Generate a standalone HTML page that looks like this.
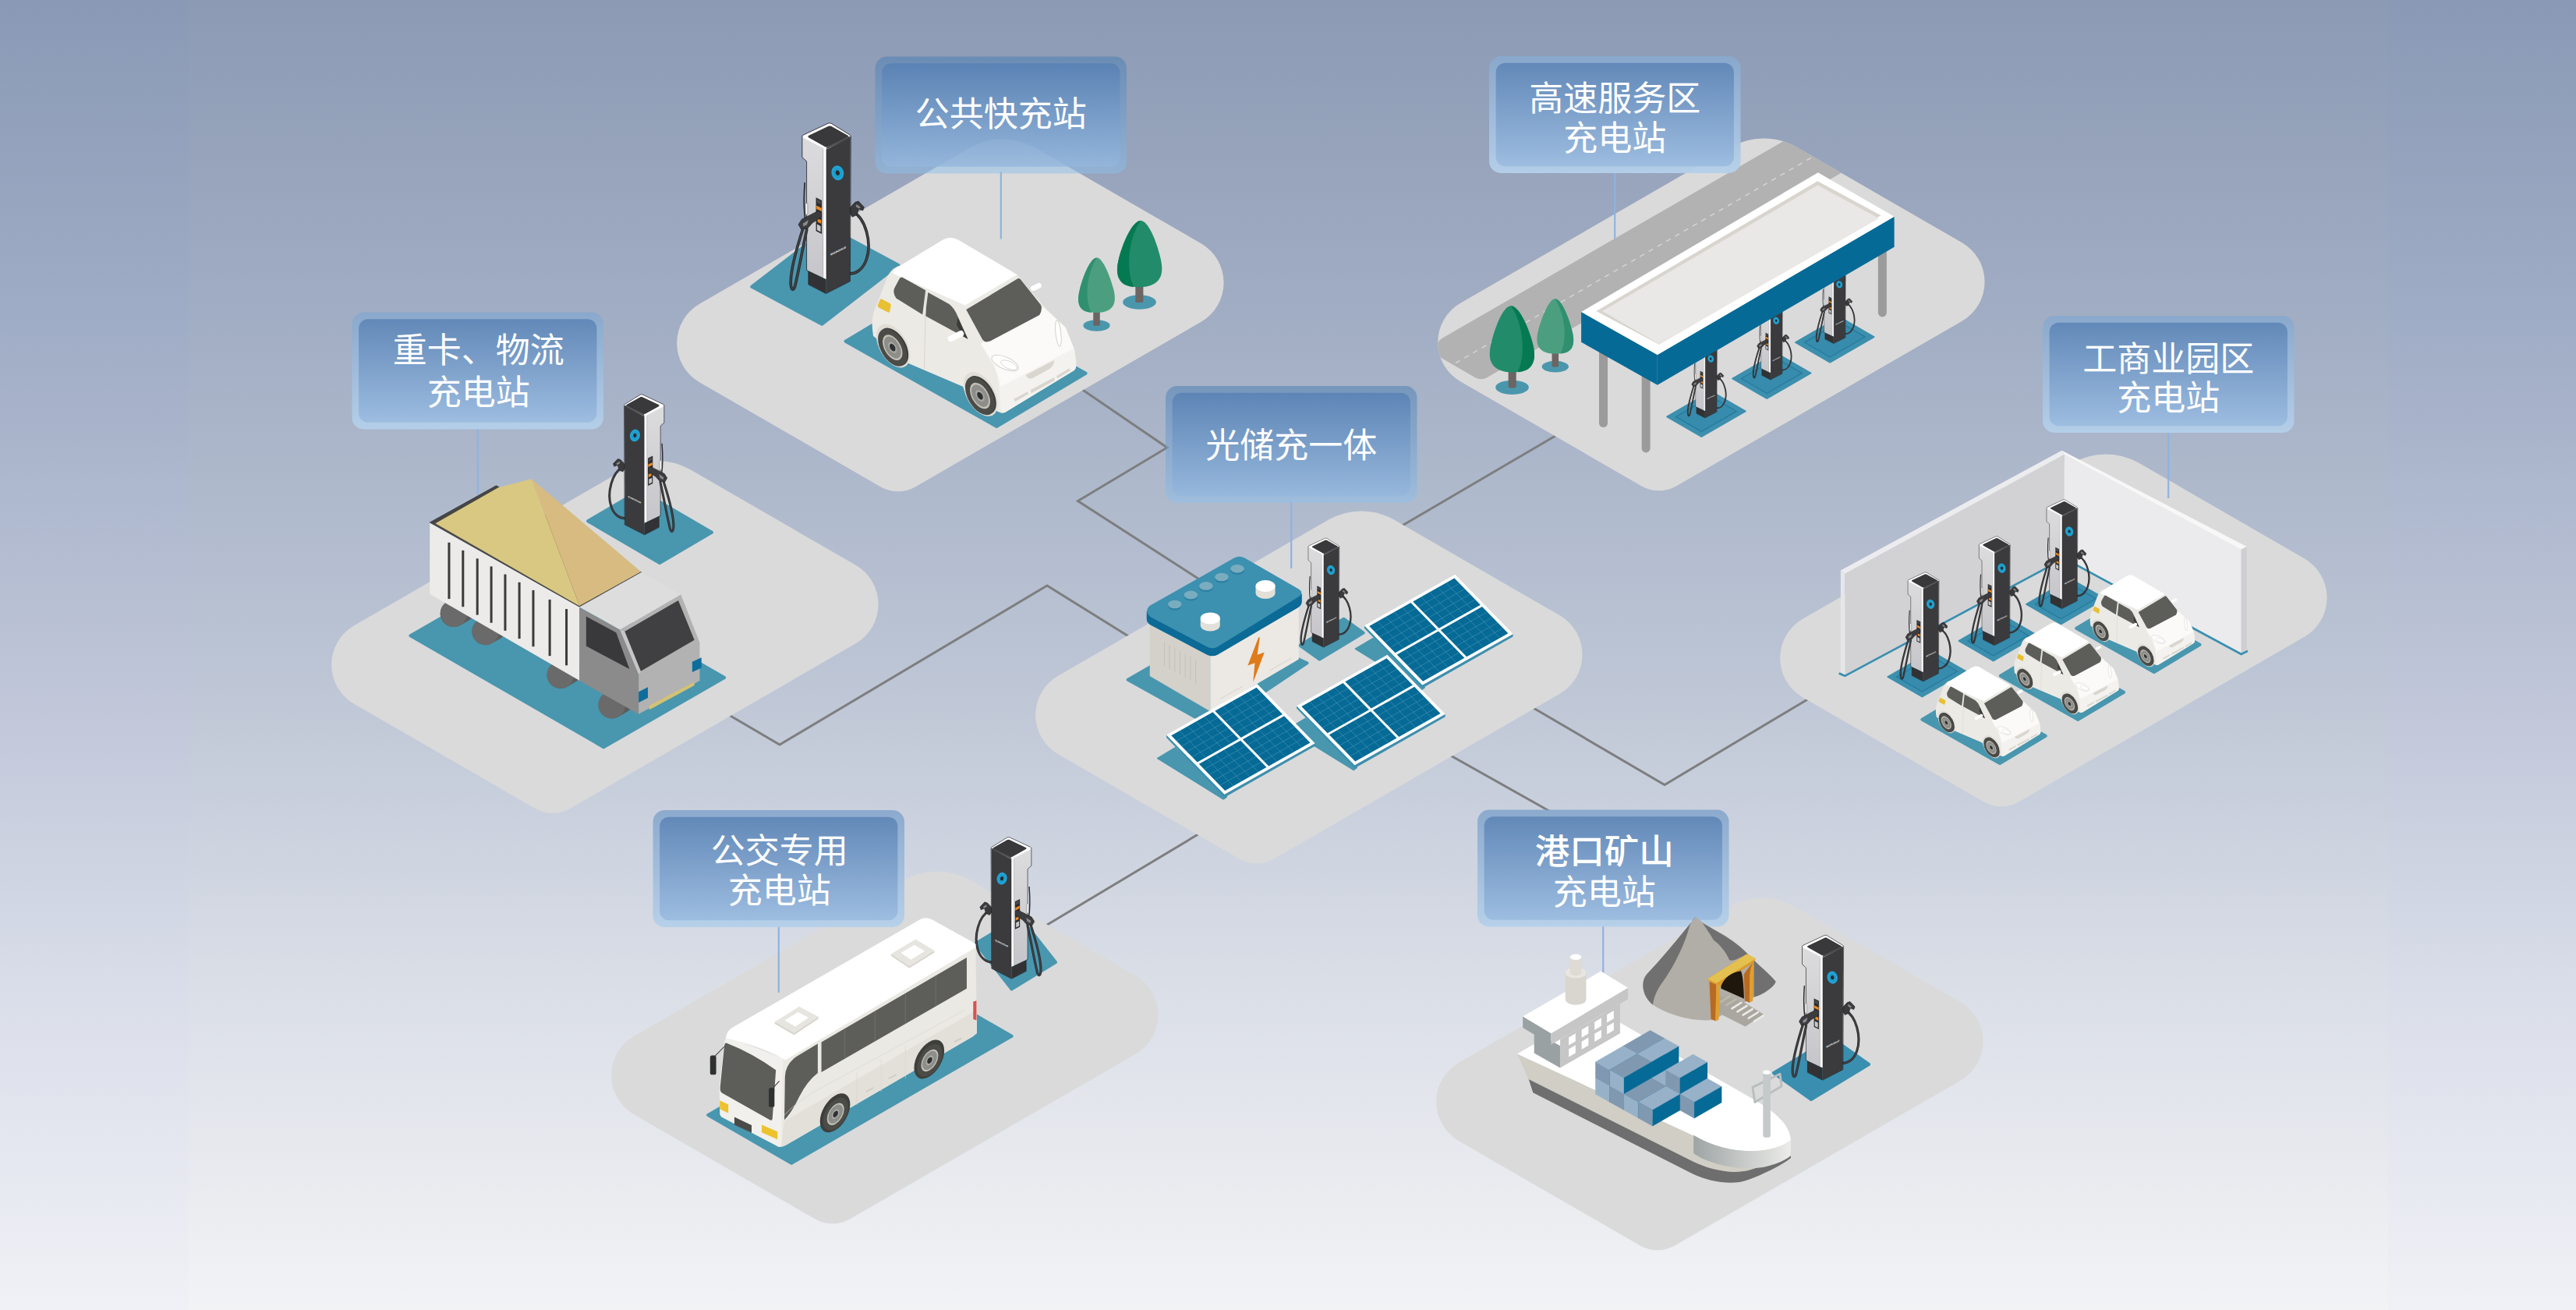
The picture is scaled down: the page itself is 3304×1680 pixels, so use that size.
<!DOCTYPE html>
<html lang="zh"><head><meta charset="utf-8"><title>充电场景</title>
<style>
html,body{margin:0;padding:0;background:#c9cfdb;}
body{width:3304px;height:1680px;overflow:hidden;}
svg{display:block}
svg text{font-family:"Liberation Sans","Noto Sans CJK SC",sans-serif;font-size:44px;fill:#fff;text-anchor:middle;}
</style></head><body>
<svg width="3304" height="1680" viewBox="0 0 3304 1680">
<defs>
<linearGradient id="bg" x1="0" y1="0" x2="0" y2="1">
<stop offset="0" stop-color="#8c9ab4"/><stop offset="0.25" stop-color="#a2aec4"/><stop offset="0.5" stop-color="#bbc4d4"/><stop offset="0.75" stop-color="#dadee7"/><stop offset="1" stop-color="#f2f3f5"/>
</linearGradient>
<linearGradient id="side" x1="0" y1="0" x2="0" y2="1">
<stop offset="0" stop-color="#8a99b5"/><stop offset="0.25" stop-color="#a0adc6"/><stop offset="0.5" stop-color="#bcc3d6"/><stop offset="0.75" stop-color="#d9dde9"/><stop offset="1" stop-color="#f0f1f6"/>
</linearGradient>
<linearGradient id="lgo" x1="0" y1="0" x2="0" y2="1"><stop offset="0" stop-color="#467bb1" stop-opacity="0.5"/><stop offset="1" stop-color="#8ec0ec" stop-opacity="0.5"/></linearGradient>
<linearGradient id="lgo2" x1="0" y1="0" x2="0" y2="1"><stop offset="0" stop-color="#88a8cc" stop-opacity="0.95"/><stop offset="1" stop-color="#b5d0ea" stop-opacity="0.95"/></linearGradient>
<linearGradient id="lgi2" x1="0" y1="0" x2="0" y2="1"><stop offset="0" stop-color="#6087b7" stop-opacity="0.95"/><stop offset="1" stop-color="#9cbce0" stop-opacity="0.95"/></linearGradient>
<linearGradient id="lgi" x1="0" y1="0" x2="0" y2="1"><stop offset="0" stop-color="#557fb3" stop-opacity="0.78"/><stop offset="1" stop-color="#95b7dd" stop-opacity="0.78"/></linearGradient>

<g id="chg" transform="scale(0.21381) translate(-465,-1105)">
<path d="M628,615 C702,655 742,800 708,900 C688,960 644,992 596,985" fill="none" stroke="#2a2a2c" stroke-width="17" stroke-linecap="round"/><path d="M628,615 C702,655 742,800 708,900 C688,960 644,992 596,985" fill="none" stroke="#4a4a4d" stroke-width="6" stroke-linecap="round"/>
<polygon points="608.0,592.0 640.0,558.0 660.0,552.0 694.0,588.0 686.0,608.0 662.0,598.0 650.0,634.0 624.0,646.0 608.0,624.0" fill="#3a3a3c" stroke="#1c1c1e" stroke-width="3" stroke-linejoin="round"/>
<polygon points="648.0,570.0 672.0,588.0 664.0,596.0 644.0,584.0" fill="#8a8a8d" />
<path d="M338,440 C330,540 334,620 342,670" fill="none" stroke="#2a2a2c" stroke-width="8"/>
<polygon points="360.0,968.0 465.0,1020.0 465.0,1105.0 360.0,1050.0" fill="#323234" />
<polygon points="465.0,235.0 611.0,164.0 608.0,1032.0 465.0,1105.0" fill="#3b3b3d" />
<defs><linearGradient id="chgf" x1="0" y1="0" x2="0" y2="1"><stop offset="0" stop-color="#dcdcde"/><stop offset="1" stop-color="#c6c6ca"/></linearGradient></defs>
<polygon points="324.0,166.0 465.0,238.0 465.0,1018.0 350.0,965.0 350.0,312.0 324.0,288.0" fill="url(#chgf)" />
<path d="M448,238 Q448,231 455,235 L468,241 L468,1019 L448,1010 Z" fill="#ffffff"/>
<path d="M330,156 L478,86 Q487,82 496,86 L606,154 Q616,160 606,168 L474,238 Q466,242 458,238 L330,172 Q318,164 330,156 Z" fill="#ffffff"/>
<path d="M362,158 L480,102 Q488,98 496,102 L596,158 Q604,163 596,168 L476,226 Q468,229 460,225 L362,170 Q352,164 362,158 Z" fill="#39393b"/>
<polygon points="470.0,228.0 604.0,163.0 611.0,168.0 466.0,241.0" fill="#454547" />
<path d="M322,164 Q322,158 330,154 L478,85 Q487,81 496,85 L608,154 Q614,158 614,166 L610,1032 L465,1106 L360,1052 L360,972 L349,966 L349,313 L322,289 Z" fill="none" stroke="#1e1e20" stroke-width="3.5" stroke-linejoin="round"/>
<path d="M468,243 L468,1018" stroke="#1e1e20" stroke-width="3"/>
<path d="M448,239 L448,1009" stroke="#77777b" stroke-width="2"/>
<polygon points="405.0,530.0 440.0,547.0 440.0,748.0 405.0,731.0" fill="#2c2c2e" />
<polygon points="408.0,578.0 438.0,593.0 438.0,613.0 408.0,598.0" fill="#f28a1c" />
<polygon points="414.0,654.0 436.0,665.0 436.0,687.0 414.0,676.0" fill="#f28a1c" />
<polygon points="411.0,690.0 433.0,701.0 433.0,736.0 411.0,725.0" fill="#c9c9cc" />
<polygon points="411.0,540.0 434.0,551.0 434.0,572.0 411.0,561.0" fill="#4a4a4d" />
<g transform="translate(535,382) rotate(-14)"><ellipse rx="37" ry="45" fill="#1b9dce"/><ellipse rx="30" ry="37" fill="none" stroke="#45b6de" stroke-width="4" stroke-dasharray="5 4"/><ellipse rx="12" ry="15" fill="#2a2a2c"/></g>
<text transform="translate(538,856) skewY(-26) scale(-1,1)" style="font-size:17px;font-weight:700;letter-spacing:0.5px" fill="#fff">SUNGROW</text>
<rect x="342" y="563" width="13" height="70" rx="6" fill="#fff" stroke="#333" stroke-width="2"/>
<path d="M330,706 C290,830 250,980 254,1050 C257,1088 270,1090 279,1062 C298,985 322,850 350,722" fill="none" stroke="#2a2a2c" stroke-width="17" stroke-linecap="round"/><path d="M330,706 C290,830 250,980 254,1050 C257,1088 270,1090 279,1062 C298,985 322,850 350,722" fill="none" stroke="#4a4a4d" stroke-width="6" stroke-linecap="round"/>
<polygon points="300.0,692.0 320.0,660.0 420.0,609.0 438.0,620.0 438.0,647.0 384.0,682.0 354.0,716.0 316.0,720.0" fill="#3c3c3e" stroke="#1c1c1e" stroke-width="3" stroke-linejoin="round"/>
<polygon points="326.0,686.0 360.0,664.0 352.0,692.0 330.0,704.0" fill="#8a8a8d" />
</g><g id="car" transform="scale(0.21368)">
<path d="M400,282 Q350,292 322,345 L236,565 Q220,620 234,705 L300,760 L440,868 L772,1010 L800,1080 L1000,1168 Q1015,1172 1030,1162 L1440,912 Q1456,900 1452,860 L1442,790 L1385,652 L1250,520 L1098,338 L745,130 Q700,105 655,128 Z" fill="#eceae5" />
<path d="M880,752 L1255,535 L1388,655 L1443,792 L1452,880 Q1452,902 1440,912 L1030,1162 Q1012,1172 1000,1150 L990,1010 Q975,900 940,850 Z" fill="#f3f2ee" />
<path d="M880,752 L1255,535 L1388,655 L1438,780 L1000,1010 Q975,900 940,850 Z" fill="#fbfaf8" />
<path d="M350,330 Q365,295 400,282 L655,128 Q700,105 745,130 L1098,338 L785,522 Z" fill="#ffffff" />
<path d="M792,548 L1098,364 Q1110,356 1120,368 L1240,520 Q1252,545 1232,580 L938,736 Q905,750 890,728 Z" fill="#5d5e59" />
<path d="M372,480 Q348,445 362,418 L392,362 Q400,348 416,358 L548,432 L530,578 Z" fill="#5d5e59" />
<path d="M563,445 L690,515 Q722,540 742,590 L802,724 L546,585 Z" fill="#5d5e59" />
<path d="M742,596 L802,724 L775,708 L735,640 Z" fill="#3a3b38" />
<path d="M552,438 L540,902" stroke="#d3d0c8" stroke-width="4" fill="none"/>
<path d="M284,484 L334,510 Q342,515 340,525 L333,560 Q330,568 320,563 L268,536 Q258,530 262,520 L274,490 Q278,480 284,484 Z" fill="#e9c034" />
<line x1="700" y1="722" x2="760" y2="692" stroke="#fff" stroke-width="36" stroke-linecap="round"/>
<line x1="1195" y1="420" x2="1228" y2="404" stroke="#fff" stroke-width="32" stroke-linecap="round"/>
<ellipse cx="1025" cy="868" rx="86" ry="36" transform="rotate(24 1025 868)" fill="#fff" stroke="#d6d3cb" stroke-width="5"/>
<ellipse cx="1048" cy="880" rx="52" ry="22" transform="rotate(24 1048 880)" fill="#fff" stroke="#d6d3cb" stroke-width="4"/>
<ellipse cx="1345" cy="690" rx="16" ry="78" transform="rotate(-6 1345 690)" fill="#fff" stroke="#d6d3cb" stroke-width="5"/>
<path d="M1150,940 L1322,850 Q1320,884 1290,905 L1188,960 Q1160,968 1150,940 Z" fill="#d8d6ce" />
<polygon points="1078.0,1085.0 1160.0,1040.0 1166.0,1054.0 1086.0,1100.0" fill="#d8d6ce" />
<polygon points="1178.0,1030.0 1320.0,955.0 1323.0,973.0 1183.0,1049.0" fill="#d8d6ce" />
<polygon points="1335.0,945.0 1412.0,900.0 1416.0,915.0 1339.0,962.0" fill="#d8d6ce" />
<g transform="matrix(.866,.5,0,1,354,765)"><circle r="117" fill="#e0ddd6"/></g>
<g transform="matrix(.866,.5,0,1,358,771)"><circle r="101" fill="#3a3a38"/></g>
<g transform="matrix(.866,.5,0,1,350,775)"><circle r="101" fill="#4b4b48"/><circle r="68.68" fill="#c2bfb4"/><circle r="58.58" fill="#8d8e8a"/><circle r="30.3" fill="#a9a9a4"/><circle r="20.2" fill="#2f3133"/></g>
<g transform="matrix(.866,.5,0,1,879,1055)"><circle r="119" fill="#e0ddd6"/></g>
<g transform="matrix(.866,.5,0,1,883,1061)"><circle r="103" fill="#3a3a38"/></g>
<g transform="matrix(.866,.5,0,1,875,1065)"><circle r="103" fill="#4b4b48"/><circle r="70.04" fill="#c2bfb4"/><circle r="59.74" fill="#8d8e8a"/><circle r="30.9" fill="#a9a9a4"/><circle r="20.6" fill="#2f3133"/></g>
</g><g id="treeD" transform="scale(0.30534) translate(-195,-972)">
<ellipse cx="195" cy="972" rx="70" ry="30" fill="#4a97ad"/>
<rect x="179" y="880" width="33" height="94" rx="6" fill="#6b6563"/>
<path d="M190,630 C224,630 264,720 282,790 C300,860 282,906 195,909 C108,906 90,860 106,790 C124,715 158,630 190,630 Z" fill="#228b6a"/>
<path d="M190,630 C224,630 264,720 282,790 C300,860 282,904 218,908 C250,850 248,715 190,630 Z" fill="#057a52"/>
</g>
<g id="treeL" transform="scale(0.30534) translate(-376,-885)">
<ellipse cx="376" cy="885" rx="56" ry="24" fill="#4a97ad"/>
<rect x="362" y="810" width="28" height="76" rx="5" fill="#6b6563"/>
<path d="M375,600 C402,600 434,680 447,735 C462,795 448,829 376,831 C306,829 290,795 304,735 C318,680 350,600 375,600 Z" fill="#4b9f80"/>
<path d="M375,600 C402,600 434,680 447,735 C462,795 448,827 398,830 C425,780 422,675 375,600 Z" fill="#2f9070"/>
</g>
</defs>
<rect width="3304" height="1680" fill="url(#bg)"/>
<rect width="242" height="1680" fill="url(#side)"/><rect x="3062" width="242" height="1680" fill="url(#side)"/>
<g id="lines"><polyline points="1385.0,497.5 1497.0,574.0 1382.5,642.5 1560.0,757.0" fill="none" stroke="#7e7e7f" stroke-width="3"/>
<polyline points="930.0,914.0 1000.0,955.0 1343.0,751.0 1470.0,830.0" fill="none" stroke="#7e7e7f" stroke-width="3"/>
<polyline points="1338.0,1189.0 1540.0,1068.0" fill="none" stroke="#7e7e7f" stroke-width="3"/>
<polyline points="1790.0,679.0 2000.0,556.0" fill="none" stroke="#7e7e7f" stroke-width="3"/>
<polyline points="1960.0,904.0 2135.0,1006.5 2325.0,893.0" fill="none" stroke="#7e7e7f" stroke-width="3"/>
<polyline points="1850.0,963.0 1987.0,1040.0" fill="none" stroke="#7e7e7f" stroke-width="3"/></g>
<g id="pads">
<path d="M1243.5,189.8 A85,85 0 0 1 1328.5,189.8 L1540.6,312.3 A58,58 0 0 1 1540.6,412.7 L1174.3,624.3 A45,45 0 0 1 1129.3,624.3 L897.1,490.2 A58,58 0 0 1 897.1,389.8 Z" fill="#dadada"/>
<path d="M800.5,602.3 A85,85 0 0 1 885.5,602.3 L1097.6,724.8 A58,58 0 0 1 1097.6,825.2 L731.3,1036.8 A45,45 0 0 1 686.3,1036.8 L454.1,902.7 A58,58 0 0 1 454.1,802.3 Z" fill="#dadada"/>
<path d="M1703.5,666.8 A85,85 0 0 1 1788.5,666.8 L2000.6,789.3 A58,58 0 0 1 2000.6,889.7 L1634.3,1101.3 A45,45 0 0 1 1589.3,1101.3 L1357.1,967.2 A58,58 0 0 1 1357.1,866.8 Z" fill="#dadada"/>
<path d="M2219.5,188.8 A85,85 0 0 1 2304.5,188.8 L2516.6,311.3 A58,58 0 0 1 2516.6,411.7 L2150.3,623.3 A45,45 0 0 1 2105.3,623.3 L1873.1,489.2 A58,58 0 0 1 1873.1,388.8 Z" fill="#dadada"/>
<path d="M2658.5,593.8 A85,85 0 0 1 2743.5,593.8 L2955.6,716.3 A58,58 0 0 1 2955.6,816.7 L2589.3,1028.3 A45,45 0 0 1 2544.3,1028.3 L2312.1,894.2 A58,58 0 0 1 2312.1,793.8 Z" fill="#dadada"/>
<path d="M1159.5,1128.8 A85,85 0 0 1 1244.5,1128.8 L1456.6,1251.3 A58,58 0 0 1 1456.6,1351.7 L1090.3,1563.3 A45,45 0 0 1 1045.3,1563.3 L813.1,1429.2 A58,58 0 0 1 813.1,1328.8 Z" fill="#dadada"/>
<path d="M2217.5,1162.8 A85,85 0 0 1 2302.5,1162.8 L2514.6,1285.3 A58,58 0 0 1 2514.6,1385.7 L2148.3,1597.3 A45,45 0 0 1 2103.3,1597.3 L1871.1,1463.2 A58,58 0 0 1 1871.1,1362.8 Z" fill="#dadada"/>
<polygon points="964.3,367.7 1062.6,291.8 1152.4,339.9 1054.1,415.8" fill="#4996af" stroke="#4996af" stroke-width="4" stroke-linejoin="round"/>
<polygon points="1084.5,437.7 1198.8,369.3 1392.6,478.7 1278.3,547.1" fill="#4996af" stroke="#4996af" stroke-width="4" stroke-linejoin="round"/>
<polygon points="754.0,668.2 820.8,628.9 912.9,682.8 846.1,722.1" fill="#4996af" stroke="#4996af" stroke-width="4" stroke-linejoin="round"/>
<polygon points="526.5,815.3 681.3,726.0 929.1,868.9 774.2,958.2" fill="#4996af" stroke="#4996af" stroke-width="4" stroke-linejoin="round"/>
<polygon points="1446.7,871.7 1568.3,801.7 1676.5,850.3 1554.9,931.8" fill="#4996af" stroke="#4996af" stroke-width="4" stroke-linejoin="round"/>
<polygon points="1667.2,827.6 1723.4,793.7 1748.7,811.6 1692.5,845.5" fill="#4996af" stroke="#4996af" stroke-width="4" stroke-linejoin="round"/>
<polygon points="1738.8,832.2 1761.2,818.8 1827.0,881.6 1823.0,884.3" fill="#4996af" stroke="#4996af" stroke-width="2" stroke-linejoin="round"/>
<polygon points="1651.9,935.1 1674.4,921.7 1740.1,984.5 1736.1,987.2" fill="#4996af" stroke="#4996af" stroke-width="2" stroke-linejoin="round"/>
<polygon points="1484.9,972.5 1507.3,959.1 1573.1,1021.9 1569.1,1024.6" fill="#4996af" stroke="#4996af" stroke-width="2" stroke-linejoin="round"/>
<defs><clipPath id="padDc"><path d="M2219.5,188.8 A85,85 0 0 1 2304.5,188.8 L2516.6,311.3 A58,58 0 0 1 2516.6,411.7 L2150.3,623.3 A45,45 0 0 1 2105.3,623.3 L1873.1,489.2 A58,58 0 0 1 1873.1,388.8 Z"/></clipPath></defs><g clip-path="url(#padDc)"><polygon points="2356.2,158.7 2398.6,183.1 1899.6,471.2 1857.3,446.8" fill="#b2b2b2" stroke="#b2b2b2" stroke-width="30" stroke-linejoin="round"/><line x1="2334.1" y1="195.9" x2="1849.6" y2="475.6" stroke="#d6d6d6" stroke-width="1.4" stroke-dasharray="6.5 6.5"/></g>
<polygon points="2194.5,501.9 2238.6,527.4 2182.3,559.9 2138.2,534.4" fill="#3d8fae" stroke="#3d8fae" stroke-width="2" stroke-linejoin="round"/><polygon points="2194.5,508.4 2227.4,527.4 2182.3,553.4 2149.4,534.4" fill="#378bac" stroke="#237c9f" stroke-width="1.3"/>
<polygon points="2278.4,453.0 2322.5,478.5 2266.2,511.0 2222.1,485.5" fill="#3d8fae" stroke="#3d8fae" stroke-width="2" stroke-linejoin="round"/><polygon points="2278.4,459.5 2311.3,478.5 2266.2,504.5 2233.3,485.5" fill="#378bac" stroke="#237c9f" stroke-width="1.3"/>
<polygon points="2359.4,406.6 2403.5,432.1 2347.2,464.6 2303.1,439.1" fill="#3d8fae" stroke="#3d8fae" stroke-width="2" stroke-linejoin="round"/><polygon points="2359.4,413.1 2392.3,432.1 2347.2,458.1 2314.3,439.1" fill="#378bac" stroke="#237c9f" stroke-width="1.3"/>
<polygon points="2477.6,835.5 2521.7,861.0 2465.4,893.5 2421.3,868.0" fill="#3d8fae" stroke="#3d8fae" stroke-width="2" stroke-linejoin="round"/><polygon points="2477.6,842.0 2510.5,861.0 2465.4,887.0 2432.5,868.0" fill="#378bac" stroke="#237c9f" stroke-width="1.3"/>
<polygon points="2568.9,789.4 2613.0,814.9 2556.7,847.4 2512.6,821.9" fill="#3d8fae" stroke="#3d8fae" stroke-width="2" stroke-linejoin="round"/><polygon points="2568.9,795.9 2601.8,814.9 2556.7,840.9 2523.8,821.9" fill="#378bac" stroke="#237c9f" stroke-width="1.3"/>
<polygon points="2655.5,742.3 2699.6,767.8 2643.3,800.3 2599.2,774.8" fill="#3d8fae" stroke="#3d8fae" stroke-width="2" stroke-linejoin="round"/><polygon points="2655.5,748.8 2688.4,767.8 2643.3,793.8 2610.4,774.8" fill="#378bac" stroke="#237c9f" stroke-width="1.3"/>
<polygon points="2465.4,922.8 2524.1,887.6 2623.7,943.8 2565.0,979.0" fill="#4996af" stroke="#4996af" stroke-width="4" stroke-linejoin="round"/>
<polygon points="2565.8,866.7 2624.5,831.5 2724.1,887.7 2665.4,922.9" fill="#4996af" stroke="#4996af" stroke-width="4" stroke-linejoin="round"/>
<polygon points="2663.2,805.8 2721.9,770.6 2821.5,826.8 2762.8,862.0" fill="#4996af" stroke="#4996af" stroke-width="4" stroke-linejoin="round"/>
<polygon points="1251.5,1210.0 1308.0,1175.5 1354.0,1234.0 1297.5,1268.5" fill="#4996af" stroke="#4996af" stroke-width="4" stroke-linejoin="round"/>
<polygon points="908.2,1430.0 1190.6,1267.0 1297.6,1328.7 1015.1,1491.8" fill="#4996af" stroke="#4996af" stroke-width="4" stroke-linejoin="round"/>
<polygon points="2275.0,1376.0 2349.0,1331.0 2397.0,1365.0 2323.0,1410.0" fill="#3a8fb0" stroke="#3a8fb0" stroke-width="4" stroke-linejoin="round"/>
</g>
<g id="labels">
<line x1="1283.8" y1="220.5" x2="1283.8" y2="306.5" stroke="#8fb3df" stroke-width="2.2"/>
<rect x="1122.5" y="72.5" width="322.5" height="150.0" rx="15" fill="url(#lgo)"/>
<rect x="1131.1" y="81.3" width="305.3" height="132.4" rx="12" fill="url(#lgi)"/>
<text x="1283.8" y="162.0">公共快充站</text>
<line x1="2071.2" y1="220.0" x2="2071.2" y2="306.0" stroke="#8fb3df" stroke-width="2.2"/>
<rect x="1910.0" y="72.0" width="322.5" height="150.0" rx="15" fill="url(#lgo2)"/>
<rect x="1918.6" y="80.8" width="305.3" height="132.4" rx="12" fill="url(#lgi2)"/>
<text x="2071.2" y="142.0">高速服务区</text>
<text x="2071.2" y="192.5">充电站</text>
<line x1="612.8" y1="548.5" x2="612.8" y2="634.5" stroke="#8fb3df" stroke-width="2.2"/>
<rect x="451.5" y="400.5" width="322.5" height="150.0" rx="15" fill="url(#lgo2)"/>
<rect x="460.1" y="409.3" width="305.3" height="132.4" rx="12" fill="url(#lgi2)"/>
<text x="613.8" y="465.3">重卡、物流</text>
<text x="613.8" y="519.3">充电站</text>
<line x1="1656.2" y1="643.0" x2="1656.2" y2="729.0" stroke="#8fb3df" stroke-width="2.2"/>
<rect x="1495.0" y="495.0" width="322.5" height="150.0" rx="15" fill="url(#lgo)"/>
<rect x="1503.6" y="503.8" width="305.3" height="132.4" rx="12" fill="url(#lgi)"/>
<text x="1656.2" y="587.0">光储充一体</text>
<line x1="2781.2" y1="553.0" x2="2781.2" y2="639.0" stroke="#8fb3df" stroke-width="2.2"/>
<rect x="2620.0" y="405.0" width="322.5" height="150.0" rx="15" fill="url(#lgo2)"/>
<rect x="2628.6" y="413.8" width="305.3" height="132.4" rx="12" fill="url(#lgi2)"/>
<text x="2781.2" y="476.0">工商业园区</text>
<text x="2781.2" y="526.0">充电站</text>
<line x1="998.8" y1="1187.0" x2="998.8" y2="1273.0" stroke="#8fb3df" stroke-width="2.2"/>
<rect x="837.5" y="1039.0" width="322.5" height="150.0" rx="15" fill="url(#lgo2)"/>
<rect x="846.1" y="1047.8" width="305.3" height="132.4" rx="12" fill="url(#lgi2)"/>
<text x="999.8" y="1107.0">公交专用</text>
<text x="999.8" y="1157.5">充电站</text>
<line x1="2056.2" y1="1186.5" x2="2056.2" y2="1272.5" stroke="#8fb3df" stroke-width="2.2"/>
<rect x="1895.0" y="1038.5" width="322.5" height="150.0" rx="15" fill="url(#lgo2)"/>
<rect x="1903.6" y="1047.3" width="305.3" height="132.4" rx="12" fill="url(#lgi2)"/>
<text x="2057.8" y="1107.8" font-weight="500" style="font-size:44.5px">港口矿山</text>
<text x="2057.8" y="1159.9">充电站</text>
</g>
<g id="objects"><use href="#chg" transform="translate(1059.4,376.3) scale(1.0000,1.0000)"/>
<use href="#treeD" transform="translate(1461.5,387.5) scale(-1,1)"/>
<use href="#treeL" transform="translate(1406.5,417.5) scale(-1,1)"/>
<use href="#car" transform="translate(1070.0,280.0) scale(1.0000)"/>
<use href="#chg" transform="translate(826.7,685.7) scale(-0.8230,0.8230)"/>
<g transform="translate(510,590) scale(0.27480)"><line x1="262" y1="716" x2="302" y2="693" stroke="#5c5c5c" stroke-width="126" stroke-linecap="round"/>
<circle cx="262" cy="716" r="63" fill="#6a6a6a"/>
<line x1="410" y1="800" x2="450" y2="777" stroke="#5c5c5c" stroke-width="126" stroke-linecap="round"/>
<circle cx="410" cy="800" r="63" fill="#6a6a6a"/>
<line x1="760" y1="1003" x2="800" y2="980" stroke="#5c5c5c" stroke-width="126" stroke-linecap="round"/>
<circle cx="760" cy="1003" r="63" fill="#6a6a6a"/>
<line x1="1000" y1="1143" x2="1040" y2="1120" stroke="#5c5c5c" stroke-width="126" stroke-linecap="round"/>
<circle cx="1000" cy="1143" r="63" fill="#6a6a6a"/>
<polygon points="150.0,290.0 850.0,685.0 850.0,1030.0 150.0,625.0" fill="#ecebe9" />
<line x1="240" y1="385.0" x2="240" y2="648.0" stroke="#3b3b3d" stroke-width="11"/>
<line x1="305" y1="421.8" x2="305" y2="684.8" stroke="#3b3b3d" stroke-width="11"/>
<line x1="372" y1="459.7" x2="372" y2="722.7" stroke="#3b3b3d" stroke-width="11"/>
<line x1="437" y1="496.5" x2="437" y2="759.5" stroke="#3b3b3d" stroke-width="11"/>
<line x1="502" y1="533.3" x2="502" y2="796.3" stroke="#3b3b3d" stroke-width="11"/>
<line x1="568" y1="570.6" x2="568" y2="833.6" stroke="#3b3b3d" stroke-width="11"/>
<line x1="633" y1="607.4" x2="633" y2="870.4" stroke="#3b3b3d" stroke-width="11"/>
<line x1="710" y1="651.0" x2="710" y2="914.0" stroke="#3b3b3d" stroke-width="11"/>
<line x1="788" y1="695.2" x2="788" y2="958.2" stroke="#3b3b3d" stroke-width="11"/>
<polygon points="150.0,290.0 460.0,118.0 1137.0,522.0 850.0,686.0" fill="#4a4a4c" />
<polygon points="150.0,290.0 460.0,118.0 475.0,126.0 165.0,300.0" fill="#454547" />
<polygon points="176.0,296.0 470.0,128.0 625.0,88.0 850.0,682.0" fill="#d9c881" />
<polygon points="625.0,88.0 1137.0,522.0 850.0,682.0" fill="#d7bb80" />
<polygon points="850.0,680.0 1137.0,520.0 1137.0,528.0 850.0,688.0" fill="#4a4a4c" />
<path d="M150,290 L850,685 L1137,524" fill="none" stroke="#4a4a4c" stroke-width="4"/>
<polygon points="848.0,686.0 1137.0,524.0 1322.0,628.0 1038.0,792.0" fill="#dddddd" />
<polygon points="848.0,688.0 1038.0,792.0 1125.0,1000.0 1125.0,1185.0 848.0,1030.0" fill="#8b8b8b" />
<polygon points="880.0,730.0 1020.0,805.0 1082.0,975.0 880.0,868.0" fill="#39393b" />
<polygon points="1038.0,792.0 1322.0,628.0 1410.0,852.0 1410.0,1030.0 1125.0,1185.0 1125.0,1000.0" fill="#b2b2b2" />
<polygon points="1038.0,792.0 1062.0,800.0 1138.0,985.0 1125.0,1000.0" fill="#c6c6c6" />
<polygon points="1060.0,800.0 1310.0,655.0 1385.0,840.0 1135.0,985.0" fill="#404042" />
<polygon points="1125.0,1082.0 1168.0,1060.0 1168.0,1110.0 1125.0,1132.0" fill="#0d6d9c" />
<polygon points="1375.0,942.0 1418.0,922.0 1418.0,970.0 1375.0,990.0" fill="#0d6d9c" />
<polygon points="1175.0,1145.0 1385.0,1035.0 1385.0,1052.0 1175.0,1165.0" fill="#d3c272" /></g>
<g transform="translate(1440,690) scale(0.26724)"><polygon points="130.0,400.0 420.0,560.0 420.0,832.0 130.0,662.0" fill="#d3d1ca" />
<polygon points="420.0,560.0 845.0,315.0 845.0,582.0 420.0,832.0" fill="#ece9e4" />
<line x1="200" y1="500.0" x2="200" y2="615.0" stroke="#bfbcb4" stroke-width="3"/>
<line x1="225" y1="513.8" x2="225" y2="628.8" stroke="#bfbcb4" stroke-width="3"/>
<line x1="250" y1="527.5" x2="250" y2="642.5" stroke="#bfbcb4" stroke-width="3"/>
<line x1="275" y1="541.2" x2="275" y2="656.2" stroke="#bfbcb4" stroke-width="3"/>
<line x1="300" y1="555.0" x2="300" y2="670.0" stroke="#bfbcb4" stroke-width="3"/>
<line x1="325" y1="568.8" x2="325" y2="683.8" stroke="#bfbcb4" stroke-width="3"/>
<line x1="350" y1="582.5" x2="350" y2="697.5" stroke="#bfbcb4" stroke-width="3"/>
<line x1="705" y1="636" x2="810" y2="576" stroke="#cfccc5" stroke-width="3"/>
<line x1="468" y1="772" x2="575" y2="712" stroke="#cfccc5" stroke-width="3"/>
<path d="M115,352 L115,392 Q117,408 135,418 L405,560 Q430,572 455,560 L840,335 Q860,322 860,305 L860,268 Z" fill="#0b6a96"/>
<path d="M130,325 L535,95 Q560,82 585,95 L845,245 Q872,262 845,282 L455,522 Q430,536 405,522 L135,380 Q100,352 130,325 Z" fill="#3c90b0"/>
<ellipse cx="250" cy="326" rx="33" ry="20" fill="#2c7fa3"/><ellipse cx="250" cy="318" rx="33" ry="20" fill="#7aacbf"/>
<ellipse cx="327" cy="281" rx="33" ry="20" fill="#2c7fa3"/><ellipse cx="327" cy="273" rx="33" ry="20" fill="#7aacbf"/>
<ellipse cx="400" cy="238" rx="33" ry="20" fill="#2c7fa3"/><ellipse cx="400" cy="230" rx="33" ry="20" fill="#7aacbf"/>
<ellipse cx="475" cy="195" rx="33" ry="20" fill="#2c7fa3"/><ellipse cx="475" cy="187" rx="33" ry="20" fill="#7aacbf"/>
<ellipse cx="550" cy="155" rx="33" ry="20" fill="#2c7fa3"/><ellipse cx="550" cy="147" rx="33" ry="20" fill="#7aacbf"/>
<path d="M373,385 v34 a47,28 0 0 0 94,0 v-34 Z" fill="#e3e0d9"/>
<ellipse cx="420" cy="385" rx="47" ry="28" fill="#ffffff"/>
<path d="M638,230 v34 a47,28 0 0 0 94,0 v-34 Z" fill="#e3e0d9"/>
<ellipse cx="685" cy="230" rx="47" ry="28" fill="#ffffff"/>
<polygon points="652.0,476.0 600.0,612.0 634.0,600.0 626.0,692.0 680.0,548.0 646.0,560.0 658.0,478.0" fill="#e07b1a" /></g>
<use href="#chg" transform="translate(1697.5,830.0) scale(0.6400,0.6400)"/>
<g transform="translate(1440,690) scale(0.26724)"><polygon points="1160.0,420.0 1438.0,705.0 1873.0,460.0 1873.0,473.0 1438.0,720.0 1160.0,433.0" fill="#3d8fae" />
<polygon points="1595.0,175.0 1160.0,420.0 1438.0,705.0 1873.0,460.0" fill="#ffffff" />
<polygon points="1592.0,192.6 1392.7,304.8 1517.7,433.0 1716.9,320.7" fill="#066a96" />
<path d="M1552.1,215.1 L1677.1,343.2 M1617.0,218.2 L1417.7,330.4" stroke="#4b97b8" stroke-width="2.2"/>
<path d="M1512.3,237.5 L1637.3,365.6 M1642.0,243.9 L1442.7,356.1" stroke="#4b97b8" stroke-width="2.2"/>
<path d="M1472.4,259.9 L1597.4,388.1 M1667.0,269.5 L1467.7,381.7" stroke="#4b97b8" stroke-width="2.2"/>
<path d="M1432.6,282.4 L1557.6,410.5 M1691.9,295.1 L1492.7,407.3" stroke="#4b97b8" stroke-width="2.2"/>
<polygon points="1382.3,310.7 1183.1,422.9 1308.0,551.0 1507.3,438.8" fill="#066a96" />
<path d="M1342.4,333.1 L1467.4,461.3 M1407.3,336.3 L1208.1,448.5" stroke="#4b97b8" stroke-width="2.2"/>
<path d="M1302.6,355.6 L1427.6,483.7 M1432.3,362.0 L1233.1,474.2" stroke="#4b97b8" stroke-width="2.2"/>
<path d="M1262.8,378.0 L1387.7,506.2 M1457.3,387.6 L1258.1,499.8" stroke="#4b97b8" stroke-width="2.2"/>
<path d="M1222.9,400.5 L1347.9,528.6 M1482.3,413.2 L1283.0,525.4" stroke="#4b97b8" stroke-width="2.2"/>
<polygon points="1725.0,329.0 1525.7,441.2 1650.7,569.3 1849.9,457.1" fill="#066a96" />
<path d="M1685.1,351.4 L1810.1,479.5 M1750.0,354.6 L1550.7,466.8" stroke="#4b97b8" stroke-width="2.2"/>
<path d="M1645.3,373.8 L1770.2,502.0 M1774.9,380.2 L1575.7,492.4" stroke="#4b97b8" stroke-width="2.2"/>
<path d="M1605.4,396.3 L1730.4,524.4 M1799.9,405.8 L1600.7,518.0" stroke="#4b97b8" stroke-width="2.2"/>
<path d="M1565.6,418.7 L1690.6,546.9 M1824.9,431.5 L1625.7,543.7" stroke="#4b97b8" stroke-width="2.2"/>
<polygon points="1515.3,447.0 1316.1,559.3 1441.0,687.4 1640.3,575.2" fill="#066a96" />
<path d="M1475.4,469.5 L1600.4,597.6 M1540.3,472.7 L1341.1,584.9" stroke="#4b97b8" stroke-width="2.2"/>
<path d="M1435.6,491.9 L1560.6,620.1 M1565.3,498.3 L1366.0,610.5" stroke="#4b97b8" stroke-width="2.2"/>
<path d="M1395.7,514.4 L1520.7,642.5 M1590.3,523.9 L1391.0,636.1" stroke="#4b97b8" stroke-width="2.2"/>
<path d="M1355.9,536.8 L1480.9,664.9 M1615.3,549.6 L1416.0,661.8" stroke="#4b97b8" stroke-width="2.2"/>
<polygon points="835.0,805.0 1113.0,1090.0 1548.0,845.0 1548.0,858.0 1113.0,1105.0 835.0,818.0" fill="#3d8fae" />
<polygon points="1270.0,560.0 835.0,805.0 1113.0,1090.0 1548.0,845.0" fill="#ffffff" />
<polygon points="1267.0,577.6 1067.7,689.8 1192.7,818.0 1391.9,705.7" fill="#066a96" />
<path d="M1227.1,600.1 L1352.1,728.2 M1292.0,603.2 L1092.7,715.4" stroke="#4b97b8" stroke-width="2.2"/>
<path d="M1187.3,622.5 L1312.3,750.6 M1317.0,628.9 L1117.7,741.1" stroke="#4b97b8" stroke-width="2.2"/>
<path d="M1147.4,644.9 L1272.4,773.1 M1342.0,654.5 L1142.7,766.7" stroke="#4b97b8" stroke-width="2.2"/>
<path d="M1107.6,667.4 L1232.6,795.5 M1366.9,680.1 L1167.7,792.3" stroke="#4b97b8" stroke-width="2.2"/>
<polygon points="1057.3,695.7 858.1,807.9 983.0,936.0 1182.3,823.8" fill="#066a96" />
<path d="M1017.4,718.1 L1142.4,846.3 M1082.3,721.3 L883.1,833.5" stroke="#4b97b8" stroke-width="2.2"/>
<path d="M977.6,740.6 L1102.6,868.7 M1107.3,747.0 L908.1,859.2" stroke="#4b97b8" stroke-width="2.2"/>
<path d="M937.8,763.0 L1062.7,891.2 M1132.3,772.6 L933.1,884.8" stroke="#4b97b8" stroke-width="2.2"/>
<path d="M897.9,785.5 L1022.9,913.6 M1157.3,798.2 L958.0,910.4" stroke="#4b97b8" stroke-width="2.2"/>
<polygon points="1400.0,714.0 1200.7,826.2 1325.7,954.3 1524.9,842.1" fill="#066a96" />
<path d="M1360.1,736.4 L1485.1,864.5 M1425.0,739.6 L1225.7,851.8" stroke="#4b97b8" stroke-width="2.2"/>
<path d="M1320.3,758.8 L1445.2,887.0 M1449.9,765.2 L1250.7,877.4" stroke="#4b97b8" stroke-width="2.2"/>
<path d="M1280.4,781.3 L1405.4,909.4 M1474.9,790.8 L1275.7,903.0" stroke="#4b97b8" stroke-width="2.2"/>
<path d="M1240.6,803.7 L1365.6,931.9 M1499.9,816.5 L1300.7,928.7" stroke="#4b97b8" stroke-width="2.2"/>
<polygon points="1190.3,832.0 991.1,944.3 1116.0,1072.4 1315.3,960.2" fill="#066a96" />
<path d="M1150.4,854.5 L1275.4,982.6 M1215.3,857.7 L1016.1,969.9" stroke="#4b97b8" stroke-width="2.2"/>
<path d="M1110.6,876.9 L1235.6,1005.1 M1240.3,883.3 L1041.0,995.5" stroke="#4b97b8" stroke-width="2.2"/>
<path d="M1070.7,899.4 L1195.7,1027.5 M1265.3,908.9 L1066.0,1021.1" stroke="#4b97b8" stroke-width="2.2"/>
<path d="M1030.9,921.8 L1155.9,1049.9 M1290.3,934.6 L1091.0,1046.8" stroke="#4b97b8" stroke-width="2.2"/>
<polygon points="210.0,945.0 488.0,1230.0 923.0,985.0 923.0,998.0 488.0,1245.0 210.0,958.0" fill="#3d8fae" />
<polygon points="645.0,700.0 210.0,945.0 488.0,1230.0 923.0,985.0" fill="#ffffff" />
<polygon points="642.0,717.6 442.7,829.8 567.7,958.0 766.9,845.7" fill="#066a96" />
<path d="M602.1,740.1 L727.1,868.2 M667.0,743.2 L467.7,855.4" stroke="#4b97b8" stroke-width="2.2"/>
<path d="M562.3,762.5 L687.3,890.6 M692.0,768.9 L492.7,881.1" stroke="#4b97b8" stroke-width="2.2"/>
<path d="M522.4,784.9 L647.4,913.1 M717.0,794.5 L517.7,906.7" stroke="#4b97b8" stroke-width="2.2"/>
<path d="M482.6,807.4 L607.6,935.5 M741.9,820.1 L542.7,932.3" stroke="#4b97b8" stroke-width="2.2"/>
<polygon points="432.3,835.7 233.1,947.9 358.0,1076.0 557.3,963.8" fill="#066a96" />
<path d="M392.4,858.1 L517.4,986.3 M457.3,861.3 L258.1,973.5" stroke="#4b97b8" stroke-width="2.2"/>
<path d="M352.6,880.6 L477.6,1008.7 M482.3,887.0 L283.1,999.2" stroke="#4b97b8" stroke-width="2.2"/>
<path d="M312.8,903.0 L437.7,1031.2 M507.3,912.6 L308.1,1024.8" stroke="#4b97b8" stroke-width="2.2"/>
<path d="M272.9,925.5 L397.9,1053.6 M532.3,938.2 L333.0,1050.4" stroke="#4b97b8" stroke-width="2.2"/>
<polygon points="775.0,854.0 575.7,966.2 700.7,1094.3 899.9,982.1" fill="#066a96" />
<path d="M735.1,876.4 L860.1,1004.5 M800.0,879.6 L600.7,991.8" stroke="#4b97b8" stroke-width="2.2"/>
<path d="M695.3,898.8 L820.2,1027.0 M824.9,905.2 L625.7,1017.4" stroke="#4b97b8" stroke-width="2.2"/>
<path d="M655.4,921.3 L780.4,1049.4 M849.9,930.8 L650.7,1043.0" stroke="#4b97b8" stroke-width="2.2"/>
<path d="M615.6,943.7 L740.6,1071.9 M874.9,956.5 L675.7,1068.7" stroke="#4b97b8" stroke-width="2.2"/>
<polygon points="565.3,972.0 366.1,1084.3 491.0,1212.4 690.3,1100.2" fill="#066a96" />
<path d="M525.4,994.5 L650.4,1122.6 M590.3,997.7 L391.1,1109.9" stroke="#4b97b8" stroke-width="2.2"/>
<path d="M485.6,1016.9 L610.6,1145.1 M615.3,1023.3 L416.0,1135.5" stroke="#4b97b8" stroke-width="2.2"/>
<path d="M445.7,1039.4 L570.7,1167.5 M640.3,1048.9 L441.0,1161.1" stroke="#4b97b8" stroke-width="2.2"/>
<path d="M405.9,1061.8 L530.9,1189.9 M665.3,1074.6 L466.0,1186.8" stroke="#4b97b8" stroke-width="2.2"/></g>
<use href="#treeL" transform="translate(1994.8,470.2) scale(1,1)"/>
<use href="#treeD" transform="translate(1939.5,496.8) scale(1,1)"/>
<g transform="translate(1880,200) scale(0.30534)"><line x1="578" y1="800" x2="578" y2="1122" stroke="#9b9b9b" stroke-width="36" stroke-linecap="round"/>
<line x1="757" y1="900" x2="757" y2="1228" stroke="#9b9b9b" stroke-width="36" stroke-linecap="round"/>
<line x1="1750" y1="380" x2="1750" y2="658" stroke="#9b9b9b" stroke-width="36" stroke-linecap="round"/></g>
<use href="#chg" transform="translate(2351.8,440.6) scale(0.4900,0.4900)"/>
<use href="#chg" transform="translate(2270.8,487.0) scale(0.4900,0.4900)"/>
<use href="#chg" transform="translate(2186.9,535.9) scale(0.4900,0.4900)"/>
<g transform="translate(1880,200) scale(0.30534)"><polygon points="485.0,655.0 805.0,835.0 805.0,962.0 485.0,782.0" fill="#066a96" />
<polygon points="805.0,835.0 1800.0,255.0 1800.0,382.0 805.0,962.0" fill="#066a96" />
<polygon points="485.0,655.0 1480.0,70.0 1800.0,255.0 805.0,835.0" fill="#ffffff" />
<polygon points="548.0,652.0 1478.0,106.0 1744.0,250.0 812.0,792.0" fill="#d8d4ce" />
<polygon points="574.0,652.0 1478.0,123.0 1736.0,262.0 812.0,790.0" fill="#e9e8e6" /></g>
<g transform="translate(2340,560) scale(0.32051)"><polyline points="58,947 82,957 960,487 1668,870 1694,857" fill="none" stroke="#3a8fb0" stroke-width="9"/>
<polygon points="82.0,548.0 960.0,72.0 960.0,482.0 82.0,952.0" fill="#d2d2d4" />
<polygon points="65.0,535.0 82.0,548.0 82.0,952.0 65.0,940.0" fill="#e6e6e8" />
<polygon points="65.0,535.0 950.0,55.0 960.0,72.0 82.0,548.0" fill="#ececee" />
<polygon points="960.0,72.0 1668.0,452.0 1668.0,865.0 960.0,482.0" fill="#ebebed" />
<polygon points="950.0,55.0 1690.0,440.0 1668.0,452.0 960.0,72.0" fill="#f7f7f8" />
<polygon points="1668.0,452.0 1690.0,440.0 1690.0,855.0 1668.0,865.0" fill="#cfcfd2" /></g>
<use href="#chg" transform="translate(2644.5,780.5) scale(0.6400,0.6400)"/>
<use href="#chg" transform="translate(2557.9,827.6) scale(0.6400,0.6400)"/>
<use href="#chg" transform="translate(2466.6,873.7) scale(0.6400,0.6400)"/>
<use href="#car" transform="translate(2655.7,724.7) scale(0.5140)"/>
<use href="#car" transform="translate(2558.3,785.6) scale(0.5140)"/>
<use href="#car" transform="translate(2457.9,841.7) scale(0.5140)"/>
<use href="#chg" transform="translate(1297.5,1255.0) scale(-0.8300,0.8300)"/>
<g transform="translate(890,1160) scale(0.25961)"><path d="M440,760 L1392,196 L1398,636 L1378,652 L470,1180 Q440,1200 415,1195 Z" fill="#ebe9e4" />
<path d="M447,1070 L1398,520 L1398,636 L1378,652 L470,1180 Q440,1200 430,1195 Z" fill="#e3e0da" />
<path d="M160,650 L440,760 L432,1196 Q420,1200 405,1190 L140,1052 Q128,1044 128,1030 L126,900 L148,690 Z" fill="#f1f0ec" />
<path d="M158,660 Q160,625 195,605 L1115,75 Q1145,58 1178,75 L1392,194 L1392,212 L452,768 Q330,700 158,660 Z" fill="#ffffff" />
<path d="M160,684 Q290,735 405,818 L388,1058 Q386,1072 372,1062 L138,930 Q128,922 130,900 L150,700 Q152,684 160,684 Z" fill="#5d5e59" />
<path d="M612,688 L612,832 Q560,872 520,950 Q482,1030 447,1064 L450,850 Q452,790 505,752 Z" fill="#5d5e59" />
<polygon points="630.0,680.0 1348.0,262.0 1348.0,415.0 630.0,828.0" fill="#5d5e59" />
<line x1="745" y1="613.1" x2="745" y2="763.1" stroke="#74756f" stroke-width="3"/>
<line x1="895" y1="525.8" x2="895" y2="675.8" stroke="#74756f" stroke-width="3"/>
<line x1="1045" y1="438.5" x2="1045" y2="588.5" stroke="#74756f" stroke-width="3"/>
<line x1="1195" y1="351.2" x2="1195" y2="501.2" stroke="#74756f" stroke-width="3"/>
<path d="M447,1040 Q520,960 640,900 L1340,520" fill="none" stroke="#d8d5ce" stroke-width="2.5"/>
<line x1="805" y1="830.0" x2="805" y2="990.0" stroke="#d8d5ce" stroke-width="2.5"/>
<line x1="925" y1="764.0" x2="925" y2="924.0" stroke="#d8d5ce" stroke-width="2.5"/>
<line x1="1045" y1="698.0" x2="1045" y2="858.0" stroke="#d8d5ce" stroke-width="2.5"/>
<line x1="850" y1="925" x2="888" y2="905" stroke="#d0cdc2" stroke-width="7"/>
<line x1="962" y1="860" x2="1000" y2="840" stroke="#d0cdc2" stroke-width="7"/>
<line x1="1285" y1="680" x2="1323" y2="660" stroke="#d0cdc2" stroke-width="7"/>
<polygon points="400.0,580.0 520.0,505.0 615.0,555.0 495.0,635.0" fill="#e7e5e0" />
<polygon points="400.0,580.0 495.0,635.0 615.0,555.0 615.0,564.0 495.0,644.0 400.0,589.0" fill="#d6d3cc" />
<polygon points="400.0,580.0 520.0,505.0 615.0,555.0 495.0,635.0" fill="#e7e5e0" />
<polygon points="448.4,572.5 514.4,531.2 566.6,558.8 500.6,602.8" fill="#ffffff" />
<polygon points="975.0,245.0 1095.0,172.0 1188.0,228.0 1065.0,305.0" fill="#e7e5e0" />
<polygon points="975.0,245.0 1065.0,305.0 1188.0,228.0 1188.0,237.0 1065.0,314.0 975.0,254.0" fill="#d6d3cc" />
<polygon points="975.0,245.0 1095.0,172.0 1188.0,228.0 1065.0,305.0" fill="#e7e5e0" />
<polygon points="1022.9,239.1 1088.9,198.9 1140.1,229.7 1072.4,272.1" fill="#ffffff" />
<g transform="matrix(.866,-.5,0,1,700,1035)"><circle cx="-3" cy="-7" r="86" fill="#3e3f3b"/></g>
<g transform="matrix(.866,-.5,0,1,700,1035)"><circle r="72" fill="#4b4b48"/><circle r="48.96" fill="#c2bfb4"/><circle r="41.76" fill="#8d8e8a"/><circle r="21.6" fill="#a9a9a4"/><circle r="14.4" fill="#2f3133"/></g>
<g transform="matrix(.866,-.5,0,1,1165,770)"><circle cx="-3" cy="-7" r="86" fill="#3e3f3b"/></g>
<g transform="matrix(.866,-.5,0,1,1165,770)"><circle r="72" fill="#4b4b48"/><circle r="48.96" fill="#c2bfb4"/><circle r="41.76" fill="#8d8e8a"/><circle r="21.6" fill="#a9a9a4"/><circle r="14.4" fill="#2f3133"/></g>
<path d="M105,748 L150,702" stroke="#3a3a3a" stroke-width="4"/><rect x="80" y="745" width="30" height="96" rx="10" fill="#2f3030"/>
<path d="M392,905 L422,872" stroke="#3a3a3a" stroke-width="4"/><rect x="370" y="905" width="28" height="96" rx="10" fill="#2f3030"/>
<polygon points="128.0,968.0 170.0,988.0 170.0,1030.0 128.0,1010.0" fill="#ecc22e" />
<polygon points="335.0,1088.0 413.0,1122.0 413.0,1160.0 335.0,1126.0" fill="#ecc22e" />
<polygon points="200.0,1050.0 285.0,1090.0 285.0,1128.0 200.0,1088.0" fill="#4a4b48" />
<path d="M1380,480 L1396,475 L1396,572 L1380,566 Z" fill="#d9534f" /></g>
<g transform="translate(2090,1160) scale(0.12979)"><path d="M655,122 C560,240 300,560 170,690 C110,760 120,900 230,990 C380,1090 620,1160 830,1140 L1230,915 C1330,890 1440,800 1445,760 C1400,700 1300,620 1240,560 C1150,470 1010,330 860,262 C800,235 720,180 655,122 Z" fill="#b1ada7" />
<path d="M655,122 C560,240 300,560 170,690 C110,760 120,900 230,990 C245,880 300,800 360,720 C440,600 545,400 592,218 C610,170 640,135 655,122 Z" fill="#707070" />
<path d="M720,180 C800,235 1010,330 1150,470 L1240,560 C1300,620 1400,700 1445,760 C1440,800 1330,890 1230,915 L1230,540 L1160,490 C1090,530 1010,570 985,545 C960,480 900,400 832,352 C800,300 760,240 720,180 Z" fill="#707070" />
<polygon points="880.0,905.0 1120.0,960.0 1325.0,1085.0 1145.0,1205.0 885.0,1075.0" fill="#aaa6a0" />
<line x1="902" y1="963" x2="995" y2="905" stroke="#bdb9a6" stroke-width="20" stroke-linecap="round"/>
<line x1="957" y1="995" x2="1050" y2="937" stroke="#bdb9a6" stroke-width="20" stroke-linecap="round"/>
<line x1="1012" y1="1027" x2="1105" y2="969" stroke="#ecebe6" stroke-width="20" stroke-linecap="round"/>
<line x1="1067" y1="1059" x2="1160" y2="1001" stroke="#ecebe6" stroke-width="20" stroke-linecap="round"/>
<line x1="1122" y1="1091" x2="1215" y2="1033" stroke="#ecebe6" stroke-width="20" stroke-linecap="round"/>
<line x1="1177" y1="1123" x2="1270" y2="1065" stroke="#ecebe6" stroke-width="20" stroke-linecap="round"/>
<line x1="1232" y1="1155" x2="1325" y2="1097" stroke="#ecebe6" stroke-width="20" stroke-linecap="round"/>
<path d="M905,805 C930,720 1000,672 1100,655 C1122,700 1128,800 1132,930 L905,830 Z" fill="#20170c" />
<path d="M1130,690 C1160,640 1200,600 1228,560 L1218,950 L1185,968 L1140,950 Z" fill="#b86a22" />
<path d="M1185,968 L1218,950 L1228,560 C1205,600 1190,650 1188,700 Z" fill="#e0a030" />
<path d="M790,760 L805,1130 L850,1152 L858,790 Z" fill="#b86a22" />
<path d="M850,1152 L882,1138 L892,830 C900,790 920,760 945,735 L858,790 Z" fill="#e0a030" />
<path d="M770,735 L1162,490 L1248,535 L1232,562 C1190,600 1120,640 1100,655 C1020,665 940,715 905,800 L880,790 L858,792 L790,762 Z" fill="#dc9a2c" />
<path d="M770,735 L1162,490 L1248,535 L858,778 Z" fill="#e4c04e" /></g>
<g transform="translate(1930,1160) scale(0.29007)"><path d="M105,770 L125,832 L830,1190 C900,1225 1000,1240 1060,1222 C1130,1200 1230,1150 1265,1120 L1265,1060 L830,1100 Z" fill="#6e6e6e" />
<path d="M55,660 L105,772 L830,1135 C900,1170 1000,1195 1080,1175 C1150,1155 1240,1110 1265,1085 L1265,1040 L835,1020 Z" fill="#d0cec5" />
<path d="M55,660 L402,460 L1095,858 C1180,905 1258,965 1265,1040 C1200,1100 1000,1120 835,1022 Z" fill="#ffffff" />
<defs><linearGradient id="bowg" x1="0" y1="0" x2="1" y2="0"><stop offset="0" stop-color="#9ea5a5"/><stop offset="1" stop-color="#ecece9"/></linearGradient></defs>
<path d="M835,1020 L835,1100 C900,1150 1050,1180 1150,1160 C1210,1145 1250,1125 1265,1110 L1265,1040 C1200,1100 1000,1120 835,1020 Z" fill="url(#bowg)" />
<polygon points="130.0,560.0 245.0,625.0 245.0,722.0 130.0,657.0" fill="#9aa1a2" />
<polygon points="245.0,596.0 510.0,439.0 510.0,570.0 245.0,722.0" fill="#c7c6c6" />
<polygon points="80.0,495.0 205.0,570.0 205.0,620.0 80.0,545.0" fill="#9aa1a2" />
<polygon points="205.0,570.0 545.0,368.0 545.0,418.0 205.0,620.0" fill="#c7c6c6" />
<polygon points="80.0,495.0 425.0,295.0 545.0,368.0 205.0,570.0" fill="#ffffff" />
<polygon points="283.0,587.4 313.0,569.6 313.0,604.6 283.0,622.4" fill="#ffffff" />
<polygon points="340.0,553.6 370.0,535.8 370.0,570.8 340.0,588.6" fill="#ffffff" />
<polygon points="397.0,519.7 427.0,501.9 427.0,536.9 397.0,554.7" fill="#ffffff" />
<polygon points="452.0,487.0 482.0,469.2 482.0,504.2 452.0,522.0" fill="#ffffff" />
<polygon points="283.0,639.4 313.0,621.6 313.0,656.6 283.0,674.4" fill="#ffffff" />
<polygon points="340.0,605.6 370.0,587.8 370.0,622.8 340.0,640.6" fill="#ffffff" />
<polygon points="397.0,571.7 427.0,553.9 427.0,588.9 397.0,606.7" fill="#ffffff" />
<polygon points="452.0,539.0 482.0,521.2 482.0,556.2 452.0,574.0" fill="#ffffff" />
<path d="M268,302 v118 a46,24 0 0 0 92,0 v-118 Z" fill="#d8d6ce"/><ellipse cx="314" cy="302" rx="46" ry="24" fill="#e8e6e0"/>
<path d="M289,232 v70 a25,13 0 0 0 50,0 v-70 Z" fill="#dddbd4"/><ellipse cx="314" cy="232" rx="25" ry="13" fill="#ffffff"/>
<g transform="translate(310.27,482.65) scale(0.42115)">
<polygon points="503.0,509.0 791.0,343.0 941.0,427.0 653.0,593.0" fill="#97b1c8" stroke="#97b1c8" stroke-width="1"/>
<polygon points="503.0,509.0 653.0,593.0 653.0,763.0 503.0,679.0" fill="#8099b0" stroke="#8099b0" stroke-width="1"/>
<polygon points="653.0,593.0 941.0,427.0 941.0,597.0 653.0,763.0" fill="#066a96" stroke="#066a96" stroke-width="1"/>
<polygon points="503.0,339.0 791.0,173.0 941.0,257.0 653.0,423.0" fill="#8099b0" stroke="#8099b0" stroke-width="1"/>
<polygon points="503.0,339.0 653.0,423.0 653.0,593.0 503.0,509.0" fill="#97b1c8" stroke="#97b1c8" stroke-width="1"/>
<polygon points="653.0,423.0 941.0,257.0 941.0,427.0 653.0,593.0" fill="#066a96" stroke="#066a96" stroke-width="1"/>
<polygon points="653.0,593.0 941.0,427.0 1091.0,511.0 803.0,677.0" fill="#8099b0" stroke="#8099b0" stroke-width="1"/>
<polygon points="653.0,593.0 803.0,677.0 803.0,847.0 653.0,763.0" fill="#97b1c8" stroke="#97b1c8" stroke-width="1"/>
<polygon points="803.0,677.0 1091.0,511.0 1091.0,681.0 803.0,847.0" fill="#066a96" stroke="#066a96" stroke-width="1"/>
<polygon points="653.0,423.0 941.0,257.0 1091.0,341.0 803.0,507.0" fill="#97b1c8" stroke="#97b1c8" stroke-width="1"/>
<polygon points="653.0,423.0 803.0,507.0 803.0,677.0 653.0,593.0" fill="#8099b0" stroke="#8099b0" stroke-width="1"/>
<polygon points="803.0,507.0 1091.0,341.0 1091.0,511.0 803.0,677.0" fill="#066a96" stroke="#066a96" stroke-width="1"/>
<polygon points="215.0,675.0 503.0,509.0 653.0,593.0 365.0,759.0" fill="#8099b0" stroke="#8099b0" stroke-width="1"/>
<polygon points="215.0,675.0 365.0,759.0 365.0,929.0 215.0,845.0" fill="#97b1c8" stroke="#97b1c8" stroke-width="1"/>
<polygon points="365.0,759.0 653.0,593.0 653.0,763.0 365.0,929.0" fill="#066a96" stroke="#066a96" stroke-width="1"/>
<polygon points="215.0,505.0 503.0,339.0 653.0,423.0 365.0,589.0" fill="#97b1c8" stroke="#97b1c8" stroke-width="1"/>
<polygon points="215.0,505.0 365.0,589.0 365.0,759.0 215.0,675.0" fill="#8099b0" stroke="#8099b0" stroke-width="1"/>
<polygon points="365.0,589.0 653.0,423.0 653.0,593.0 365.0,759.0" fill="#066a96" stroke="#066a96" stroke-width="1"/>
<polygon points="803.0,677.0 1091.0,511.0 1241.0,595.0 953.0,761.0" fill="#97b1c8" stroke="#97b1c8" stroke-width="1"/>
<polygon points="803.0,677.0 953.0,761.0 953.0,931.0 803.0,847.0" fill="#8099b0" stroke="#8099b0" stroke-width="1"/>
<polygon points="953.0,761.0 1241.0,595.0 1241.0,765.0 953.0,931.0" fill="#066a96" stroke="#066a96" stroke-width="1"/>
<polygon points="365.0,759.0 653.0,593.0 803.0,677.0 515.0,843.0" fill="#97b1c8" stroke="#97b1c8" stroke-width="1"/>
<polygon points="365.0,759.0 515.0,843.0 515.0,1013.0 365.0,929.0" fill="#8099b0" stroke="#8099b0" stroke-width="1"/>
<polygon points="515.0,843.0 803.0,677.0 803.0,847.0 515.0,1013.0" fill="#066a96" stroke="#066a96" stroke-width="1"/>
<polygon points="365.0,589.0 653.0,423.0 803.0,507.0 515.0,673.0" fill="#8099b0" stroke="#8099b0" stroke-width="1"/>
<polygon points="365.0,589.0 515.0,673.0 515.0,843.0 365.0,759.0" fill="#97b1c8" stroke="#97b1c8" stroke-width="1"/>
<polygon points="515.0,673.0 803.0,507.0 803.0,677.0 515.0,843.0" fill="#066a96" stroke="#066a96" stroke-width="1"/>
<polygon points="953.0,761.0 1241.0,595.0 1391.0,679.0 1103.0,845.0" fill="#8099b0" stroke="#8099b0" stroke-width="1"/>
<polygon points="953.0,761.0 1103.0,845.0 1103.0,1015.0 953.0,931.0" fill="#97b1c8" stroke="#97b1c8" stroke-width="1"/>
<polygon points="1103.0,845.0 1391.0,679.0 1391.0,849.0 1103.0,1015.0" fill="#066a96" stroke="#066a96" stroke-width="1"/>
<polygon points="953.0,591.0 1241.0,425.0 1391.0,509.0 1103.0,675.0" fill="#97b1c8" stroke="#97b1c8" stroke-width="1"/>
<polygon points="953.0,591.0 1103.0,675.0 1103.0,845.0 953.0,761.0" fill="#8099b0" stroke="#8099b0" stroke-width="1"/>
<polygon points="1103.0,675.0 1391.0,509.0 1391.0,679.0 1103.0,845.0" fill="#066a96" stroke="#066a96" stroke-width="1"/>
<polygon points="515.0,843.0 803.0,677.0 953.0,761.0 665.0,927.0" fill="#8099b0" stroke="#8099b0" stroke-width="1"/>
<polygon points="515.0,843.0 665.0,927.0 665.0,1097.0 515.0,1013.0" fill="#97b1c8" stroke="#97b1c8" stroke-width="1"/>
<polygon points="665.0,927.0 953.0,761.0 953.0,931.0 665.0,1097.0" fill="#066a96" stroke="#066a96" stroke-width="1"/>
<polygon points="1103.0,845.0 1391.0,679.0 1541.0,763.0 1253.0,929.0" fill="#97b1c8" stroke="#97b1c8" stroke-width="1"/>
<polygon points="1103.0,845.0 1253.0,929.0 1253.0,1099.0 1103.0,1015.0" fill="#8099b0" stroke="#8099b0" stroke-width="1"/>
<polygon points="1253.0,929.0 1541.0,763.0 1541.0,933.0 1253.0,1099.0" fill="#066a96" stroke="#066a96" stroke-width="1"/>
<polygon points="665.0,927.0 953.0,761.0 1103.0,845.0 815.0,1011.0" fill="#97b1c8" stroke="#97b1c8" stroke-width="1"/>
<polygon points="665.0,927.0 815.0,1011.0 815.0,1181.0 665.0,1097.0" fill="#8099b0" stroke="#8099b0" stroke-width="1"/>
<polygon points="815.0,1011.0 1103.0,845.0 1103.0,1015.0 815.0,1181.0" fill="#066a96" stroke="#066a96" stroke-width="1"/>
</g>
<path d="M1096,808 L1217,749 L1224,803 L1106,874 Z" fill="none" stroke="#b9bebe" stroke-width="10" stroke-linejoin="round"/>
<rect x="1142" y="740" width="33" height="290" rx="10" fill="#c5c9c9"/><ellipse cx="1158.500" cy="742" rx="16.500" ry="9" fill="#ffffff"/></g>
<use href="#chg" transform="translate(2337.5,1385.0) scale(0.8500,0.8500)"/></g>
</svg></body></html>
